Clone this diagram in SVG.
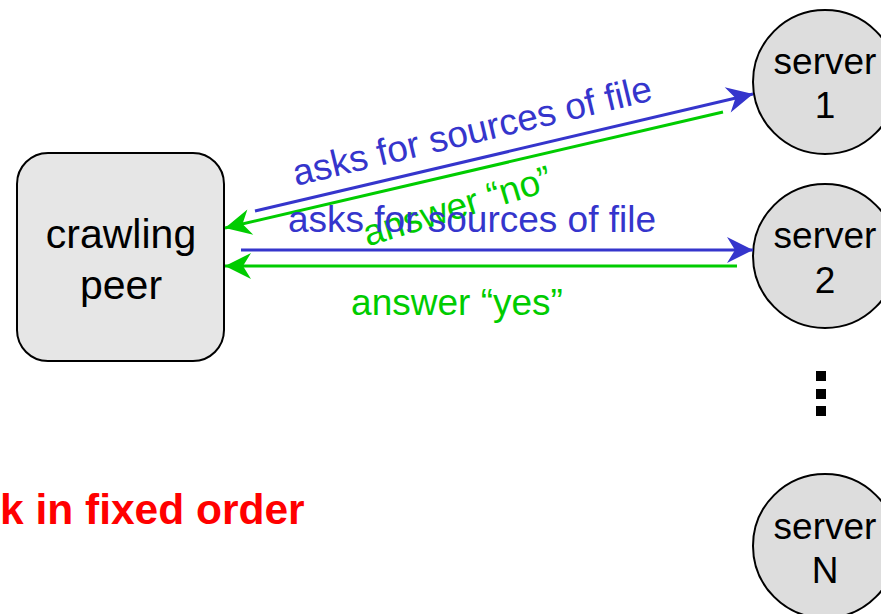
<svg xmlns="http://www.w3.org/2000/svg" width="881" height="614" viewBox="0 0 881 614">
<style>
  .node { stroke: #000; stroke-width: 2; }
  .peer { fill: #e6e6e6; }
  .srv { fill: #dddddd; }
  .nt { font-family: "Liberation Sans", Arial, sans-serif; fill: #000; text-anchor: middle; }
  .lbl { font-family: "Liberation Sans", Arial, sans-serif; font-size: 37px; text-anchor: middle; }
  .blue { stroke: #3535cc; stroke-width: 3; fill: none; }
  .green { stroke: #00cc00; stroke-width: 3; fill: none; }
  .tb { fill: #3535cc; }
  .tg { fill: #00cc00; }
</style>
<defs>
  <marker id="ahb" markerUnits="userSpaceOnUse" markerWidth="30" markerHeight="30" viewBox="-28 -15 30 30" refX="0" refY="0" orient="auto">
    <path d="M0,0 L-26,-13 L-18,0 L-26,13 Z" fill="#3535cc"/>
  </marker>
  <marker id="ahg" markerUnits="userSpaceOnUse" markerWidth="30" markerHeight="30" viewBox="-28 -15 30 30" refX="0" refY="0" orient="auto">
    <path d="M0,0 L-26,-13 L-18,0 L-26,13 Z" fill="#00cc00"/>
  </marker>
</defs>
<rect width="881" height="614" fill="#fff"/>

<g id="crawling-peer">
  <rect class="node peer" x="17" y="153" width="207" height="208" rx="31" ry="31"/>
  <text class="nt" x="121" y="248" font-size="41">crawling</text>
  <text class="nt" x="121" y="299" font-size="41">peer</text>
</g>

<g id="server-1">
  <circle class="node srv" cx="825" cy="82" r="72"/>
  <text class="nt" x="825" y="74" font-size="37">server</text>
  <text class="nt" x="825" y="118" font-size="37">1</text>
</g>

<g id="server-2">
  <circle class="node srv" cx="825" cy="256" r="72"/>
  <text class="nt" x="825" y="248" font-size="37">server</text>
  <text class="nt" x="825" y="293" font-size="37">2</text>
</g>

<g id="ellipsis">
  <rect x="816" y="371" width="10" height="10" fill="#000"/>
  <rect x="816" y="389" width="10" height="10" fill="#000"/>
  <rect x="816" y="406" width="10" height="10" fill="#000"/>
</g>

<g id="server-N">
  <circle class="node srv" cx="825" cy="546" r="72"/>
  <text class="nt" x="825" y="539" font-size="37">server</text>
  <text class="nt" x="825" y="583" font-size="37">N</text>
</g>

<g id="connectors">
  <line class="blue" x1="255" y1="211" x2="753" y2="94" marker-end="url(#ahb)"/>
  <line class="green" x1="723" y1="112" x2="225" y2="228" marker-end="url(#ahg)"/>
  <line class="blue" x1="241" y1="250" x2="753" y2="250" marker-end="url(#ahb)"/>
  <line class="green" x1="737" y1="266" x2="225" y2="266" marker-end="url(#ahg)"/>
  <text class="lbl tb" x="475" y="143" transform="rotate(-13.5 475 143)">asks for sources of file</text>
  <text class="lbl tg" x="461" y="218" transform="rotate(-17 461 218)">answer “no”</text>
  <text class="lbl tb" x="472" y="232">asks for sources of file</text>
  <text class="lbl tg" x="457" y="315">answer “yes”</text>
</g>

<text x="0" y="524" font-family="Liberation Sans, Arial, sans-serif" font-size="42.5" font-weight="bold" fill="#ff0000">k in fixed order</text>
</svg>
